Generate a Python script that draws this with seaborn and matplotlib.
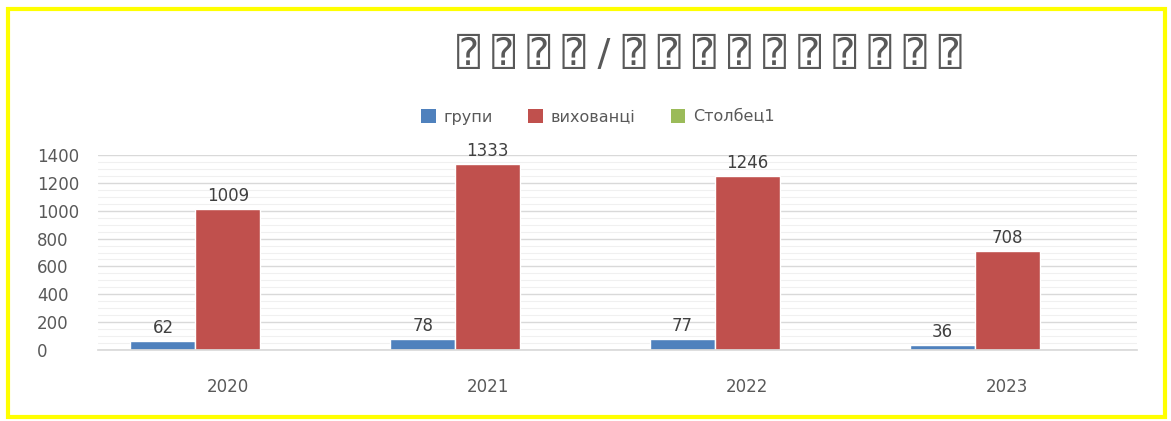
import matplotlib
matplotlib.use("Agg")
import matplotlib.pyplot as plt
import seaborn as sns
import pandas as pd
from matplotlib.patches import Rectangle, Patch

years = ["2020", "2021", "2022", "2023"]
groups = [62, 78, 77, 36]
pupils = [1009, 1333, 1246, 708]
col1 = [0, 0, 0, 0]
series_names = ["групи", "вихованці", "Столбец1"]
title_text = "⍰ ⍰ ⍰ ⍰ / ⍰ ⍰ ⍰ ⍰ ⍰ ⍰ ⍰ ⍰ ⍰ ⍰"

colors = ["#4F81BD", "#C0504D", "#9BBB59"]

df = pd.DataFrame({
    "year": years * 3,
    "value": groups + pupils + col1,
    "series": [series_names[0]] * 4 + [series_names[1]] * 4 + [series_names[2]] * 4,
})

sns.set_theme(style="white")
plt.rcParams["font.family"] = ["DejaVu Sans", "DejaVu Sans Mono", "Noto Sans"]

fig = plt.figure(figsize=(11.71, 4.21), dpi=100)
ax = fig.add_axes([98 / 1171, 1 - 350 / 421, (1137 - 98) / 1171, 195 / 421])

sns.barplot(data=df, x="year", y="value", hue="series", palette=colors,
            width=0.75, ax=ax, legend=False, saturation=1, errorbar=None)

ax.set_ylim(0, 1400)
ax.set_xlim(-0.5, 3.5)
ax.set_yticks(range(0, 1401, 200))
ax.set_yticks(range(0, 1401, 50), minor=True)
ax.grid(axis="y", which="major", color="#D9D9D9", linewidth=1.0, zorder=0)
ax.grid(axis="y", which="minor", color="#F0F0F0", linewidth=0.8, zorder=0)
ax.set_axisbelow(True)
for s in ["top", "right", "left"]:
    ax.spines[s].set_visible(False)
ax.spines["bottom"].set_color("#D9D9D9")
ax.set_xlabel("")
ax.set_ylabel("")
ax.tick_params(axis="y", length=0, pad=44, labelsize=12, labelcolor="#595959")
ax.tick_params(axis="x", length=0, pad=20, labelsize=12, labelcolor="#595959")
for t in ax.get_yticklabels():
    t.set_horizontalalignment("left")

for cont in ax.containers[:2]:
    ax.bar_label(cont, padding=3, fontsize=12, color="#404040")

handles = [Patch(facecolor=c, edgecolor="none") for c in colors]
fig.legend(handles, series_names, loc="center", bbox_to_anchor=(598 / 1171, 1 - 117 / 421),
           ncol=3, frameon=False, fontsize=11.5, handlelength=0.9, handleheight=0.9,
           columnspacing=2.2, handletextpad=0.5, labelcolor="#595959")

fig.text(709 / 1171, 1 - 55 / 421, title_text, ha="center", va="center",
         fontsize=27.5, color="#595959")

fig.patches.append(Rectangle((8 / 1171, 4 / 421), 1157 / 1171, 408 / 421,
                             transform=fig.transFigure, fill=False,
                             edgecolor="#FFFF00", linewidth=3))

fig.savefig("out.png", dpi=100)
